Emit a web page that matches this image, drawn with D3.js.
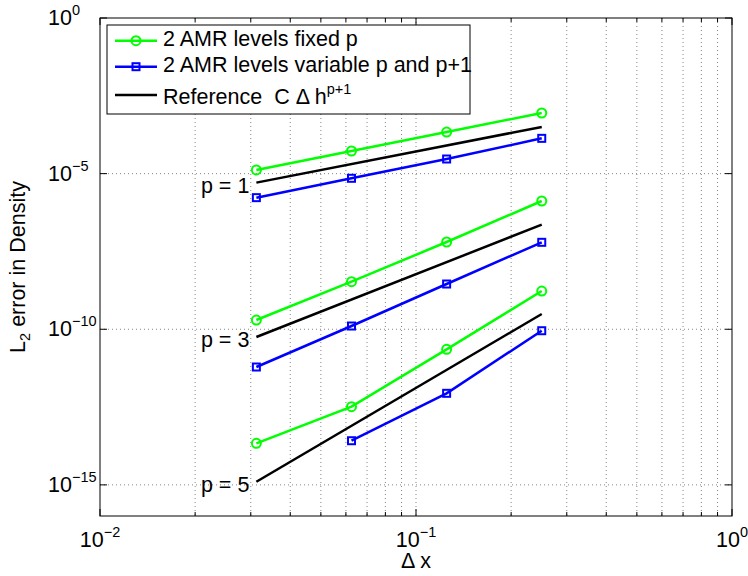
<!DOCTYPE html>
<html>
<head>
<meta charset="utf-8">
<script src="https://cdn.jsdelivr.net/npm/d3@7"></script>
<style>
  body { margin: 0; background: #fff; }
  svg { display: block; font-family: "Liberation Sans", Arial, Helvetica, sans-serif; }
  text { white-space: pre; }
</style>
</head>
<body>
<script>
// grid spacing (Delta x) shared by every series
var dx = [0.03125, 0.0625, 0.125, 0.25];
var orders = [1, 3, 5];

// errors, one row per order p
var fixedP = [
    [1.31e-5, 5.33e-5, 2.17e-4, 8.87e-4],
    [1.98e-10, 3.37e-9, 6.35e-8, 1.32e-6],
    [2.16e-14, 3.25e-13, 2.26e-11, 1.69e-9]
];
var variableP = [
    [1.69e-6, 7.08e-6, 2.95e-5, 1.36e-4],
    [6.12e-12, 1.27e-10, 2.84e-9, 6.21e-8],
    [null, 2.62e-14, 8.75e-13, 8.97e-11]
];
// reference line C*dh^(p+1): value at first and last dx
var refFirst = [5.13e-6, 5.64e-11, 1.26e-15];
var refLast = [3.16e-4, 2.29e-7, 3.09e-10];

var xTicks = [1e-2, 1e-1, 1e0];
var xTickExp = ["−2", "−1", "0"];
var yTicks = [1e0, 1e-5, 1e-10, 1e-15];
var yTickExp = ["0", "−5", "−10", "−15"];

var legendLabels = ["2 AMR levels fixed p", "2 AMR levels variable p and p+1", "Reference  C \u0394 h"];

(function(){

var width = 748, height = 576;
var pL = 100, pR = 732, pT = 18, pB = 516;
var green = "#00ff00", blue = "#0000ff";
var fs = 21.5, fsSup = 14.5;

var svg = d3.select("body").append("svg")
    .attr("width", width)
    .attr("height", height);

var x = d3.scaleLog().domain([1e-2, 1]).range([pL, pR]);
var y = d3.scaleLog().domain([1e-16, 1]).range([pB, pT]);

//minor x ticks 2..9 per decade
var xMinor = [];
[1e-2, 1e-1].forEach(function(d){
    for (var k = 2; k <= 9; k++) xMinor.push(d * k);
});

//dotted grid
var grid = svg.append("g")
    .attr("stroke", "#666")
    .attr("stroke-width", 0.8)
    .attr("stroke-dasharray", "1,3");
grid.selectAll(".gx")
    .data(xMinor.concat([1e-1]))
    .enter().append("line")
    .attr("x1", function(d){ return x(d); })
    .attr("x2", function(d){ return x(d); })
    .attr("y1", pT).attr("y2", pB);
grid.selectAll(".gy")
    .data(yTicks.slice(1))
    .enter().append("line")
    .attr("y1", function(d){ return y(d); })
    .attr("y2", function(d){ return y(d); })
    .attr("x1", pL).attr("x2", pR);

//frame and ticks
var axes = svg.append("g").attr("stroke", "#000").attr("stroke-width", 1);
axes.append("rect")
    .attr("x", pL).attr("y", pT)
    .attr("width", pR - pL).attr("height", pB - pT)
    .attr("fill", "none");

function xTickMarks(data, len){
    data.forEach(function(d){
        axes.append("line").attr("x1", x(d)).attr("x2", x(d)).attr("y1", pB).attr("y2", pB - len);
        axes.append("line").attr("x1", x(d)).attr("x2", x(d)).attr("y1", pT).attr("y2", pT + len);
    });
}
xTickMarks(xTicks, 7);
xTickMarks(xMinor, 4);
yTicks.forEach(function(d){
    axes.append("line").attr("x1", pL).attr("x2", pL + 7).attr("y1", y(d)).attr("y2", y(d));
    axes.append("line").attr("x1", pR).attr("x2", pR - 7).attr("y1", y(d)).attr("y2", y(d));
});

//tick labels
svg.selectAll(".xl")
    .data(xTicks)
    .enter().append("text")
    .attr("x", function(d){ return x(d); })
    .attr("y", 547)
    .attr("text-anchor", "middle")
    .attr("font-size", fs)
    .each(function(d, i){
        var t = d3.select(this);
        t.append("tspan").text("10");
        t.append("tspan").attr("font-size", fsSup).attr("dy", -10).text(xTickExp[i]);
    });

svg.selectAll(".yl")
    .data(yTicks)
    .enter().append("text")
    .attr("x", 48)
    .attr("y", function(d){ return y(d) + 7; })
    .attr("font-size", fs)
    .each(function(d, i){
        var t = d3.select(this);
        t.append("tspan").text("10");
        t.append("tspan").attr("font-size", fsSup).attr("dy", -10).text(yTickExp[i]);
    });

//axis labels
svg.append("text")
    .attr("x", (pL + pR) / 2)
    .attr("y", 568)
    .attr("text-anchor", "middle")
    .attr("font-size", fs)
    .text("\u0394 x");

var yl = svg.append("text")
    .attr("transform", "translate(25," + ((pT + pB) / 2) + ") rotate(-90)")
    .attr("text-anchor", "middle")
    .attr("font-size", fs);
yl.append("tspan").text("L");
yl.append("tspan").attr("font-size", fsSup).attr("dy", 5).text("2");
yl.append("tspan").attr("dy", -5).text(" error in Density");

//series
var line = d3.line()
    .x(function(d){ return x(d[0]); })
    .y(function(d){ return y(d[1]); });

var plot = svg.append("g");

orders.forEach(function(p, i){
    var fp = dx.map(function(d, j){ return [d, fixedP[i][j]]; });
    var vp = dx.map(function(d, j){ return [d, variableP[i][j]]; }).filter(function(d){ return d[1] != null; });
    var rf = [[dx[0], refFirst[i]], [dx[dx.length - 1], refLast[i]]];

    plot.append("path").datum(fp).attr("d", line)
        .attr("fill", "none").attr("stroke", green).attr("stroke-width", 2.5);
    plot.append("path").datum(rf).attr("d", line)
        .attr("fill", "none").attr("stroke", "#000").attr("stroke-width", 2.5);
    plot.append("path").datum(vp).attr("d", line)
        .attr("fill", "none").attr("stroke", blue).attr("stroke-width", 2.5);

    plot.selectAll(".c" + p).data(fp).enter().append("circle")
        .attr("cx", function(d){ return x(d[0]); })
        .attr("cy", function(d){ return y(d[1]); })
        .attr("r", 4.5)
        .attr("fill", "none").attr("stroke", green).attr("stroke-width", 2);
    plot.selectAll(".s" + p).data(vp).enter().append("rect")
        .attr("x", function(d){ return x(d[0]) - 3.5; })
        .attr("y", function(d){ return y(d[1]) - 3.5; })
        .attr("width", 7).attr("height", 7)
        .attr("fill", "none").attr("stroke", blue).attr("stroke-width", 2);

    plot.append("text")
        .attr("x", x(dx[0]) - 7)
        .attr("y", y(refFirst[i]) + 10)
        .attr("text-anchor", "end")
        .attr("font-size", fs)
        .text("p = " + p);
});

//legend
var lg = svg.append("g");
lg.append("rect")
    .attr("x", 107).attr("y", 25)
    .attr("width", 363).attr("height", 89)
    .attr("fill", "#fff").attr("stroke", "#000").attr("stroke-width", 1);
var rowY = [40.7, 66.7, 95];
var textY = [46, 71.5, 104];
var rowColors = [green, blue, "#000"];
legendLabels.forEach(function(lab, i){
    lg.append("line")
        .attr("x1", 115).attr("x2", 157)
        .attr("y1", rowY[i]).attr("y2", rowY[i])
        .attr("stroke", rowColors[i]).attr("stroke-width", 2.5);
    var t = lg.append("text")
        .attr("x", 163).attr("y", textY[i])
        .attr("font-size", fs)
        .text(lab);
    if (i == 2) t.append("tspan").attr("font-size", fsSup).attr("dy", -10).text("p+1");
});
lg.append("circle").attr("cx", 136).attr("cy", rowY[0]).attr("r", 4.5)
    .attr("fill", "none").attr("stroke", green).attr("stroke-width", 2);
lg.append("rect").attr("x", 132.5).attr("y", rowY[1] - 3.5).attr("width", 7).attr("height", 7)
    .attr("fill", "none").attr("stroke", blue).attr("stroke-width", 2);

})();
</script>
</body>
</html>
